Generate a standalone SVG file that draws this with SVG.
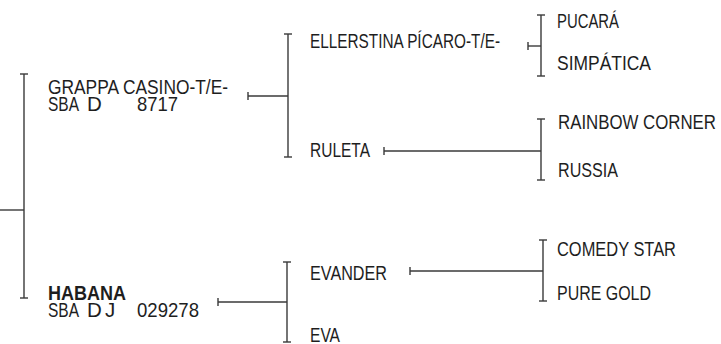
<svg xmlns="http://www.w3.org/2000/svg" width="721" height="344" viewBox="0 0 721 344">
<style>
.t{font-family:"Liberation Sans Narrow","Liberation Sans",Arial,sans-serif;font-size:20.5px;fill:#1e1e1e}
.b{font-weight:bold}
.c line{stroke:#3a3a3a;stroke-width:1.4;fill:none}
</style>
<rect width="721" height="344" fill="#fff"/>
<g class="c" id="connectors">
<line x1="0" y1="210" x2="24" y2="210"/>
<line x1="24" y1="74" x2="24" y2="298"/><line x1="20" y1="74" x2="28" y2="74"/><line x1="20" y1="298" x2="28" y2="298"/>
<line x1="248" y1="96" x2="288" y2="96"/><line x1="248" y1="92" x2="248" y2="100"/>
<line x1="288" y1="34" x2="288" y2="157"/><line x1="284" y1="34" x2="292" y2="34"/><line x1="284" y1="157" x2="292" y2="157"/>
<line x1="218" y1="302" x2="287" y2="302"/><line x1="218" y1="298" x2="218" y2="306"/>
<line x1="287" y1="262" x2="287" y2="342"/><line x1="283" y1="262" x2="291" y2="262"/><line x1="283" y1="342" x2="291" y2="342"/>
<line x1="528" y1="46" x2="541" y2="46"/><line x1="528" y1="42" x2="528" y2="50"/>
<line x1="541" y1="15" x2="541" y2="76"/><line x1="537" y1="15" x2="545" y2="15"/><line x1="537" y1="76" x2="545" y2="76"/>
<line x1="384" y1="151" x2="541" y2="151"/><line x1="384" y1="147" x2="384" y2="155"/>
<line x1="541" y1="119" x2="541" y2="180"/><line x1="537" y1="119" x2="545" y2="119"/><line x1="537" y1="180" x2="545" y2="180"/>
<line x1="410" y1="271" x2="543" y2="271"/><line x1="410" y1="267" x2="410" y2="275"/>
<line x1="543" y1="240" x2="543" y2="301"/><line x1="539" y1="240" x2="547" y2="240"/><line x1="539" y1="301" x2="547" y2="301"/>
</g>
<g id="grappa">
<text class="t" x="48" y="94" textLength="180" lengthAdjust="spacingAndGlyphs">GRAPPA CASINO-T/E-</text>
<text class="t" y="111"><tspan x="48" textLength="31" lengthAdjust="spacingAndGlyphs">SBA</tspan><tspan x="87">D</tspan><tspan x="137" textLength="41" lengthAdjust="spacingAndGlyphs">8717</tspan></text>
</g>
<g id="habana">
<text class="t b" x="48" y="300" textLength="78" lengthAdjust="spacingAndGlyphs">HABANA</text>
<text class="t" y="317"><tspan x="48" textLength="31" lengthAdjust="spacingAndGlyphs">SBA</tspan><tspan x="87">D</tspan><tspan x="105">J</tspan><tspan x="137" textLength="62" lengthAdjust="spacingAndGlyphs">029278</tspan></text>
</g>
<g id="ellerstina"><text class="t" x="310" y="48" textLength="190" lengthAdjust="spacingAndGlyphs">ELLERSTINA PÍCARO-T/E-</text></g>
<g id="ruleta"><text class="t" x="310" y="157" textLength="60" lengthAdjust="spacingAndGlyphs">RULETA</text></g>
<g id="evander"><text class="t" x="310" y="280" textLength="77" lengthAdjust="spacingAndGlyphs">EVANDER</text></g>
<g id="eva"><text class="t" x="310" y="342" textLength="30" lengthAdjust="spacingAndGlyphs">EVA</text></g>
<g id="pucara"><text class="t" x="557" y="28" textLength="62" lengthAdjust="spacingAndGlyphs">PUCARÁ</text></g>
<g id="simpatica"><text class="t" x="557" y="70" textLength="94" lengthAdjust="spacingAndGlyphs">SIMPÁTICA</text></g>
<g id="rainbow"><text class="t" x="558" y="129" textLength="158" lengthAdjust="spacingAndGlyphs">RAINBOW CORNER</text></g>
<g id="russia"><text class="t" x="558" y="177" textLength="60" lengthAdjust="spacingAndGlyphs">RUSSIA</text></g>
<g id="comedy"><text class="t" x="557" y="256" textLength="119" lengthAdjust="spacingAndGlyphs">COMEDY STAR</text></g>
<g id="puregold"><text class="t" x="557" y="300" textLength="94" lengthAdjust="spacingAndGlyphs">PURE GOLD</text></g>
</svg>
